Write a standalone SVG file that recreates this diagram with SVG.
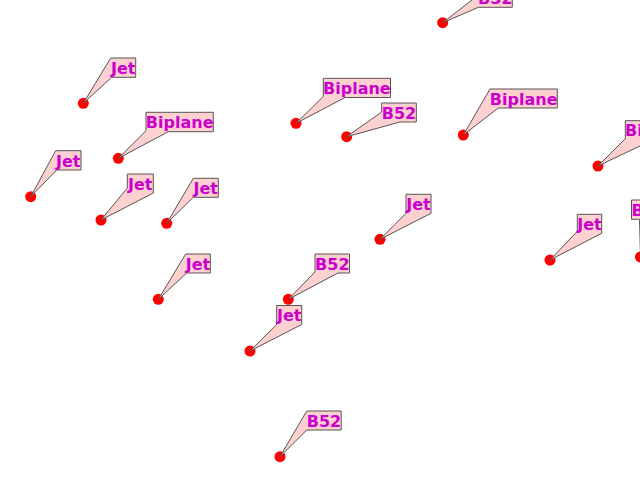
<svg xmlns="http://www.w3.org/2000/svg" width="640" height="480" viewBox="0 0 640 480">
<style>
.pt{fill:#ff0000}
.lb{fill:#ffd0d0;stroke:#555555;stroke-width:1;stroke-linejoin:miter}
.tx{font-family:"DejaVu Sans","Liberation Sans",sans-serif;font-weight:bold;font-size:16px;fill:#cc00cc;text-anchor:middle}
</style>
<rect width="640" height="480" fill="#ffffff"/>
<g id="connectors"></g>
<g id="n1"><circle class="pt" cx="442.7" cy="22.7" r="5.5"/><path class="lb" d="M442.7,22.7 L478.3,-5 L478.3,-12 L512.3,-12 L512.3,7.3 L478.3,7.3 Z"/><text class="tx" x="495.3" y="3.8">B52</text></g>
<g id="n2"><circle class="pt" cx="83.3" cy="103.3" r="5.5"/><path class="lb" d="M83.3,103.3 L110.7,58 L135.7,58 L135.7,77.3 L111.7,77.3 Z"/><text class="tx" x="123.2" y="73.8">Jet</text></g>
<g id="n3"><circle class="pt" cx="118.3" cy="158.3" r="5.5"/><path class="lb" d="M118.3,158.3 L146,130.7 L146,112.3 L213.3,112.3 L213.3,131.7 L168.3,131.7 Z"/><text class="tx" x="179.7" y="128.2">Biplane</text></g>
<g id="n4"><circle class="pt" cx="30.7" cy="196.7" r="5.5"/><path class="lb" d="M30.7,196.7 L55.7,150.7 L81,150.7 L81,170 L56.7,170 Z"/><text class="tx" x="68.3" y="166.5">Jet</text></g>
<g id="n5"><circle class="pt" cx="101" cy="220" r="5.5"/><path class="lb" d="M101,220 L127.3,188 L127.3,174 L153.3,174 L153.3,193 Z"/><text class="tx" x="140.3" y="189.5">Jet</text></g>
<g id="n6"><circle class="pt" cx="166.7" cy="223.3" r="5.5"/><path class="lb" d="M166.7,223.3 L193.3,178.3 L218.3,178.3 L218.3,197.3 L193.3,197.3 Z"/><text class="tx" x="205.8" y="193.8">Jet</text></g>
<g id="n7"><circle class="pt" cx="158.3" cy="299.3" r="5.5"/><path class="lb" d="M158.3,299.3 L185.7,254 L210.3,254 L210.3,273 L186.7,273 Z"/><text class="tx" x="198" y="269.5">Jet</text></g>
<g id="n8"><circle class="pt" cx="296" cy="123.3" r="5.5"/><path class="lb" d="M296,123.3 L323.3,96.5 L323.3,78.3 L390.5,78.3 L390.5,97.5 L345,97.5 Z"/><text class="tx" x="356.9" y="94">Biplane</text></g>
<g id="n9"><circle class="pt" cx="346.7" cy="136.7" r="5.5"/><path class="lb" d="M346.7,136.7 L381.7,112 L381.7,103 L416.3,103 L416.3,122 L400,122 Z"/><text class="tx" x="399" y="118.5">B52</text></g>
<g id="n10"><circle class="pt" cx="463.3" cy="135" r="5.5"/><path class="lb" d="M463.3,135 L490,89 L557.3,89 L557.3,108 L498.3,108 Z"/><text class="tx" x="523.7" y="104.5">Biplane</text></g>
<g id="n11"><circle class="pt" cx="380" cy="239.3" r="5.5"/><path class="lb" d="M380,239.3 L406,213.3 L406,194.3 L431,194.3 L431,213.3 Z"/><text class="tx" x="418.5" y="209.8">Jet</text></g>
<g id="n12"><circle class="pt" cx="288.3" cy="299.3" r="5.5"/><path class="lb" d="M288.3,299.3 L315,272 L315,254 L349.5,254 L349.5,273 L338,273 Z"/><text class="tx" x="332.3" y="269.5">B52</text></g>
<g id="n13"><circle class="pt" cx="250" cy="351" r="5.5"/><path class="lb" d="M250,351 L276.7,324.5 L276.7,305.5 L301.7,305.5 L301.7,324.5 Z"/><text class="tx" x="289.2" y="321">Jet</text></g>
<g id="n14"><circle class="pt" cx="280" cy="456.7" r="5.5"/><path class="lb" d="M280,456.7 L306.7,411 L341.2,411 L341.2,430 L306.7,430 Z"/><text class="tx" x="324" y="426.5">B52</text></g>
<g id="n15"><circle class="pt" cx="550" cy="260" r="5.5"/><path class="lb" d="M550,260 L577.3,231.3 L577.3,214.3 L601.7,214.3 L601.7,233.3 Z"/><text class="tx" x="589.5" y="229.8">Jet</text></g>
<g id="n16"><circle class="pt" cx="598" cy="166" r="5.5"/><path class="lb" d="M598,166 L625.3,138.7 L625.3,120.7 L692.5,120.7 L692.5,139.7 L653,139.7 Z"/><text class="tx" x="658.9" y="136.2">Biplane</text></g>
<g id="n17"><circle class="pt" cx="640.5" cy="257" r="5.5"/><path class="lb" d="M640.5,257 L639.5,219.3 L631.5,219.3 L631.5,200 L666,200 L666,219.3 L662,219.3 Z"/><text class="tx" x="648.8" y="215.8">B52</text></g>
</svg>
